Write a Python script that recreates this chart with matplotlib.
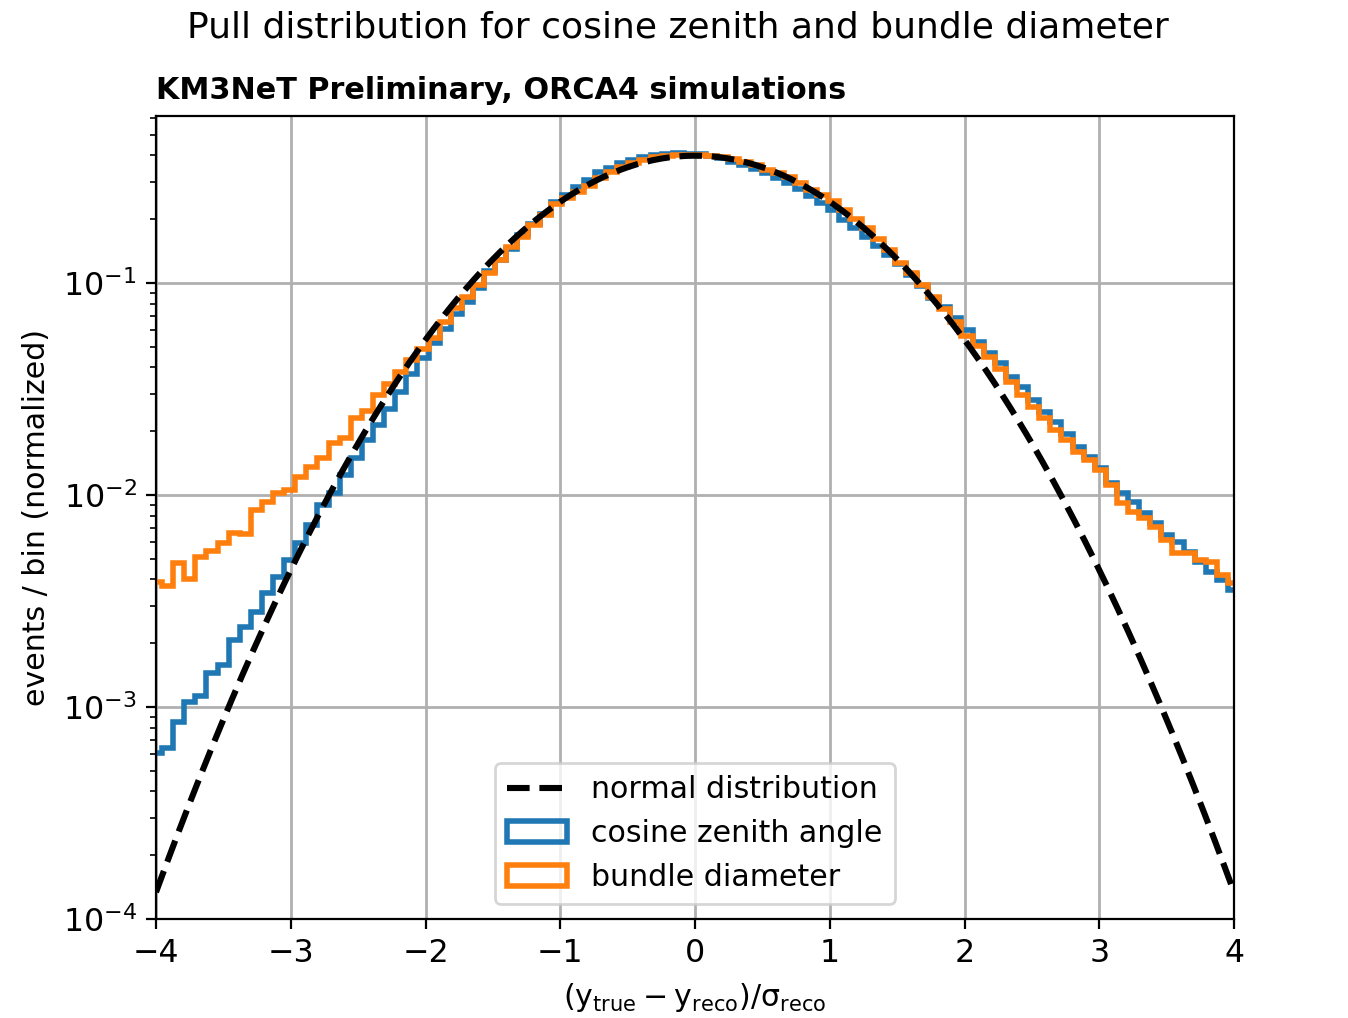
import numpy as np
import matplotlib
matplotlib.use("Agg")
import matplotlib.pyplot as plt

# ---------------- data ----------------
bin_lo, bin_hi, n_bins = -4.12, 4.12, 100

cos_zenith = [
    5.5e-4, 6.1e-4, 6.4e-4, 8.5e-4, 1.06e-3, 1.13e-3, 1.44e-3, 1.58e-3, 2.07e-3, 2.39e-3,
    2.82e-3, 3.44e-3, 4.12e-3, 4.93e-3, 5.92e-3, 7.22e-3, 8.97e-3, 1.02e-2, 1.24e-2, 1.49e-2,
    1.82e-2, 2.14e-2, 2.56e-2, 3.07e-2, 3.72e-2, 4.45e-2, 5.19e-2, 6.05e-2, 7.14e-2, 8.16e-2,
    9.5e-2, 0.114, 0.128, 0.145, 0.168, 0.190, 0.212, 0.240, 0.260, 0.285,
    0.308, 0.333, 0.348, 0.367, 0.381, 0.394, 0.402, 0.408, 0.410, 0.408,
    0.405, 0.398, 0.389, 0.374, 0.360, 0.347, 0.329, 0.312, 0.298, 0.277,
    0.258, 0.238, 0.220, 0.198, 0.181, 0.165, 0.150, 0.136, 0.123, 0.109,
    0.0968, 0.0847, 0.0773, 0.0681, 0.0600, 0.0529, 0.0466, 0.0418, 0.0362, 0.0324,
    0.0281, 0.0247, 0.0222, 0.0195, 0.0169, 0.0152, 0.0134, 0.0114, 0.0102, 0.0093,
    0.00825, 0.0074, 0.00648, 0.00602, 0.0054, 0.00485, 0.00435, 0.00397, 0.00356, 0.0033,
]

bundle_diameter = [
    3.8e-3, 3.9e-3, 3.72e-3, 4.8e-3, 4.0e-3, 5.08e-3, 5.45e-3, 5.92e-3, 6.59e-3, 6.52e-3,
    8.5e-3, 9.3e-3, 1.02e-2, 1.06e-2, 1.22e-2, 1.35e-2, 1.50e-2, 1.76e-2, 1.86e-2, 2.30e-2,
    2.50e-2, 2.96e-2, 3.33e-2, 3.82e-2, 4.33e-2, 4.88e-2, 5.5e-2, 6.57e-2, 7.59e-2, 8.62e-2,
    9.78e-2, 0.111, 0.128, 0.148, 0.165, 0.188, 0.209, 0.236, 0.252, 0.268,
    0.287, 0.312, 0.333, 0.353, 0.370, 0.380, 0.392, 0.397, 0.401, 0.402,
    0.402, 0.398, 0.393, 0.383, 0.372, 0.360, 0.343, 0.329, 0.315, 0.296,
    0.276, 0.259, 0.244, 0.222, 0.201, 0.181, 0.161, 0.143, 0.125, 0.111,
    0.0975, 0.086, 0.0755, 0.0655, 0.0565, 0.0505, 0.0450, 0.0392, 0.0342, 0.0296,
    0.0261, 0.0230, 0.0203, 0.0182, 0.0160, 0.0146, 0.0131, 0.0112, 0.00914, 0.00834,
    0.00776, 0.00709, 0.00613, 0.00531, 0.00531, 0.00494, 0.00485, 0.00420, 0.00383, 0.0037,
]

series_labels = ["cosine zenith angle", "bundle diameter"]
x_ticks = [-4, -3, -2, -1, 0, 1, 2, 3, 4]

# ---------------- figure ----------------
W, H, DPI = 1348, 1018, 200
fig = plt.figure(figsize=(W / DPI, H / DPI), dpi=DPI)
ax = fig.add_axes([156 / W, 1 - 919 / H, (1234 - 156) / W, (919 - 116) / H])

edges = np.linspace(bin_lo, bin_hi, n_bins + 1)
centers = 0.5 * (edges[:-1] + edges[1:])

_, _, p1 = ax.hist(centers, bins=edges, weights=cos_zenith, histtype="step", lw=2,
                   color="#1f77b4", label=series_labels[0], zorder=2)
_, _, p2 = ax.hist(centers, bins=edges, weights=bundle_diameter, histtype="step", lw=2,
                   color="#ff7f0e", label=series_labels[1], zorder=2)

xs = np.linspace(-4, 4, 400)
normal = np.exp(-0.5 * xs ** 2) / np.sqrt(2 * np.pi)
(ln,) = ax.plot(xs, normal, "k--", lw=2.2, label="normal distribution", zorder=3)

ax.set_yscale("log")
ax.set_xlim(-4, 4)
ax.set_ylim(1e-4, 0.614)
ax.set_xticks(x_ticks)
ax.grid(True, which="major", color="#b0b0b0", lw=1)
ax.tick_params(labelsize=11.4)

ax.set_xlabel(r"$\mathregular{(y_{true} - y_{reco})/\sigma_{reco}}$", fontsize=10.8)
ax.set_ylabel("events / bin (normalized)", fontsize=10.8)
ax.set_title("KM3NeT Preliminary, ORCA4 simulations", loc="left",
             fontweight="bold", fontsize=10.9, pad=6)
fig.text(0.5026, 1 - 38 / H, "Pull distribution for cosine zenith and bundle diameter",
         ha="center", va="baseline", fontsize=13)

ax.legend([ln, p1[0], p2[0]], ["normal distribution"] + series_labels,
          loc="lower center", fontsize=10.8)

fig.savefig("out.png", dpi=DPI)
